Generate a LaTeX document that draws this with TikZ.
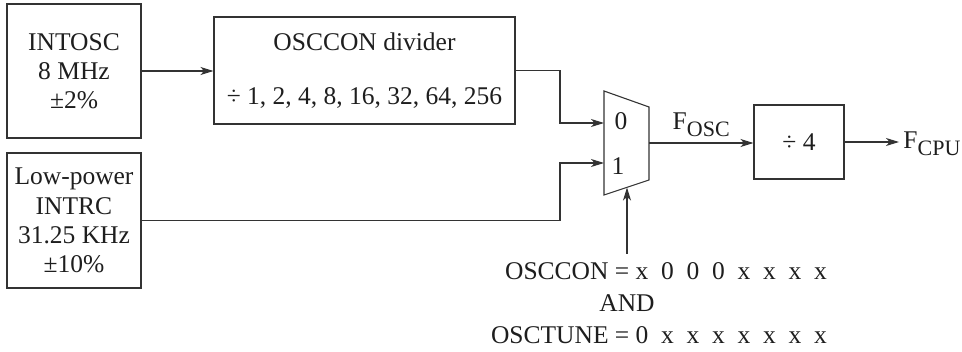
\documentclass[tikz,border=0pt]{standalone}
\usepackage{fontspec}
\setmainfont{Liberation Serif}
\definecolor{ckline}{RGB}{51,51,51}
\definecolor{cktext}{RGB}{30,30,30}
\usetikzlibrary{arrows.meta,positioning,calc}
\newcommand{\cksub}[1]{\raisebox{-3.3pt}{\fontsize{11}{11}\selectfont #1}}

\begin{document}
\begin{tikzpicture}[x=0.5pt,y=-0.5pt,
  ckbox/.style={draw=ckline,line width=0.55pt,align=center,inner sep=2pt,
    font=\fontsize{12.75}{14.6}\selectfont,text=cktext},
  cklabel/.style={font=\fontsize{12.75}{14.6}\selectfont,text=cktext,inner sep=2pt},
  ckwire/.style={draw=ckline,line width=0.55pt,-{Stealth[length=6.5pt,width=4pt,inset=1.8pt]}}
]
  \useasboundingbox (0,0) rectangle (962,352);
  % Oscillator sources (left column)
  \node[ckbox,minimum width=67pt,minimum height=67pt] (intosc) at (74,71) {INTOSC\\8 MHz\\±2\%};
  \node[ckbox,minimum width=67pt,minimum height=67.5pt] (intrc) at (74,220.5) {Low-power\\INTRC\\31.25 KHz\\±10\%};
  % Postscaler
  \node[ckbox,minimum width=150.5pt,minimum height=53.5pt] (divbox) at (364.5,70.5) {OSCCON divider\\[12.5pt]÷ 1, 2, 4, 8, 16, 32, 64, 256};
  % Clock multiplexer
  \draw[draw=ckline,line width=0.55pt] (604,91) -- (649,107) -- (649,180) -- (604,195) -- cycle;
  \coordinate (mux0) at (604,123);
  \coordinate (mux1) at (604,163);
  \coordinate (muxsel) at (627,187.5);
  \coordinate (muxout) at (649,143);
  \coordinate (bend) at (560,0);
  \node[cklabel] (lab0) at (621,121) {0};
  \node[cklabel] (lab1) at (618,166) {1};
  % Instruction clock divider
  \node[ckbox,minimum width=45pt,minimum height=37pt] (div4) at (799,142) {÷ 4};
  \node[cklabel,anchor=west] (fcpu) at (899,144) {F\cksub{CPU}};
  % Select condition
  \node[cklabel] (ctlcon) at (666,271) {OSCCON = x\enspace 0\enspace 0\enspace 0\enspace x\enspace x\enspace x\enspace x};
  \node[cklabel] (ctland) at (627,303) {AND};
  \node[cklabel] (ctltune) at (659,335) {OSCTUNE = 0\enspace x\enspace x\enspace x\enspace x\enspace x\enspace x\enspace x};
  % Wires
  \draw[ckwire] (intosc.east) -- (intosc.east -| divbox.west);
  \draw[ckwire] (divbox.east) -- (divbox.east -| bend) |- (mux0);
  \draw[ckwire] (intrc.east) -- (intrc.east -| bend) |- (mux1);
  \draw[ckwire] (muxout) -- node[cklabel,above=1pt] (fosc) {F\cksub{OSC}} (muxout -| div4.west);
  \draw[ckwire] (div4.east) -- (div4.east -| fcpu.west);
  \draw[ckwire] ([yshift=2pt]ctlcon.north -| muxsel) -- (muxsel);
\end{tikzpicture}
\end{document}
